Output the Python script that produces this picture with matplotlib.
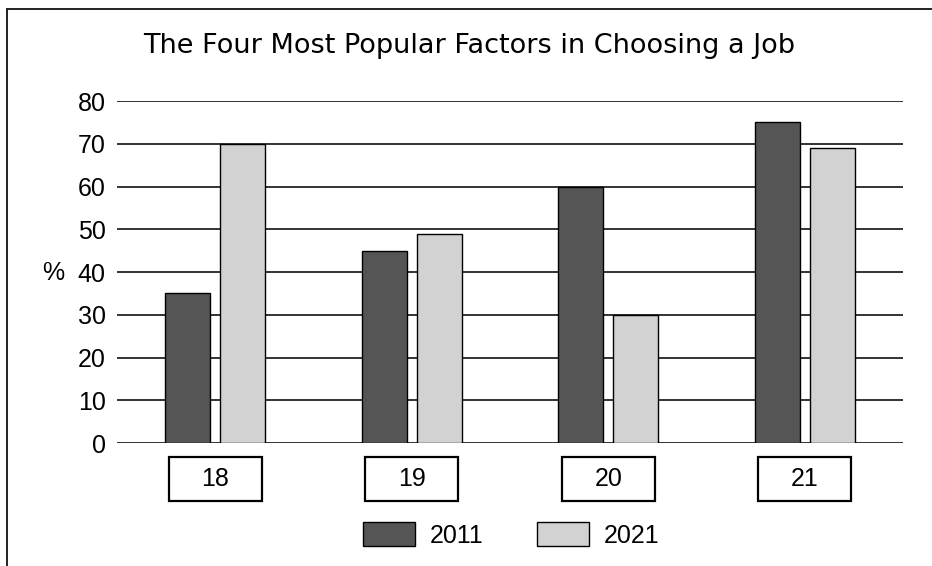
import numpy as np
import matplotlib as mpl
import matplotlib.pyplot as plt
import matplotlib.patches as mpatches
import matplotlib.lines as mlines
import matplotlib.transforms as mtransforms

mpl.rcParams["font.family"] = ["Liberation Sans", "DejaVu Sans"]

# Data
categories = ["18", "19", "20", "21"]
series_names = ["2011", "2021"]
values_2011 = [35, 45, 60, 75]
values_2021 = [70, 49, 30, 69]
yticks = [0, 10, 20, 30, 40, 50, 60, 70, 80]

# Style
dark = "#555555"
light = "#d2d2d2"
bar_width = 0.23
offset = 0.14
fs = 18

fig = plt.figure(figsize=(9.32, 5.66), dpi=100)
ax = fig.add_axes([0.1255, 0.2173, 0.8433, 0.6042])

x = np.arange(len(categories))
ax.bar(x - offset, values_2011, bar_width, color=dark, edgecolor="black",
       linewidth=1.0, zorder=3, label=series_names[0])
ax.bar(x + offset, values_2021, bar_width, color=light, edgecolor="black",
       linewidth=1.0, zorder=3, label=series_names[1])

ax.set_xlim(-0.5, len(categories) - 0.5)
ax.set_ylim(0, 80)
ax.set_yticks(yticks)
ax.set_yticklabels([str(t) for t in yticks], fontsize=fs)
ax.set_xticks([])
ax.tick_params(axis="y", length=0, pad=8)
ax.yaxis.grid(True, color="#111111", linewidth=1.2, zorder=0)
ax.set_axisbelow(True)
for s in ax.spines.values():
    s.set_visible(False)

# % label
fig.text(53 / 932, 1 - 273 / 566, "%", fontsize=fs, ha="center", va="center")

# Category boxes under the axis
trans = mtransforms.blended_transform_factory(ax.transData, ax.transAxes)
box_w = 0.473
box_top = -0.041
box_bot = -0.1696
for i, c in enumerate(categories):
    ax.add_patch(mpatches.Rectangle((i - box_w / 2, box_bot), box_w, box_top - box_bot,
                                    transform=trans, facecolor="white", edgecolor="black",
                                    linewidth=1.6, clip_on=False))
    ax.text(i, (box_top + box_bot) / 2, c, transform=trans, ha="center", va="center",
            fontsize=fs)

# Title
fig.text(469 / 932, 1 - 46 / 566, "The Four Most Popular Factors in Choosing a Job",
         fontsize=19.5, ha="center", va="center", family="DejaVu Sans")

# Legend
fig.legend(
    handles=[mpatches.Patch(facecolor=dark, edgecolor="black", linewidth=1.0, label=series_names[0]),
             mpatches.Patch(facecolor=light, edgecolor="black", linewidth=1.0, label=series_names[1])],
    loc="center", bbox_to_anchor=(511 / 932, 31 / 566), ncol=2, frameon=False,
    fontsize=fs, handlelength=2.1, handleheight=1.04, handletextpad=0.56,
    columnspacing=2.15, borderpad=0)

# Outer frame (top and left only)
fig.add_artist(mlines.Line2D([7 / 932, 1.0], [1 - 9 / 566, 1 - 9 / 566],
                             transform=fig.transFigure, color="#222222", linewidth=1.4))
fig.add_artist(mlines.Line2D([7 / 932, 7 / 932], [0.0, 1 - 9 / 566],
                             transform=fig.transFigure, color="#222222", linewidth=1.4))

fig.savefig("out.png", dpi=100)
